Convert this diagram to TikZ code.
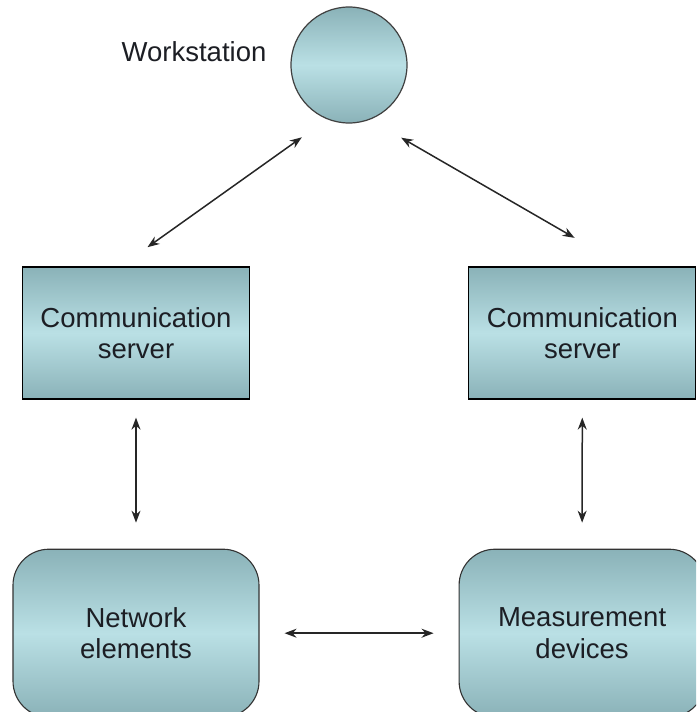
\documentclass[tikz,border=0pt]{standalone}
\usepackage{fontspec}
\setmainfont{Liberation Sans}
\usetikzlibrary{shapes,arrows.meta,positioning}
\definecolor{tealedge}{RGB}{138,178,184}
\definecolor{tealmid}{RGB}{186,224,229}
\definecolor{inkdark}{RGB}{28,30,36}

\begin{document}
\begin{tikzpicture}
[x=1pt,y=1pt,>={Stealth[length=12pt,width=9pt]},
 shaded/.style={top color=tealedge,bottom color=tealedge,middle color=tealmid,text=inkdark,align=center,font=\fontsize{27.5}{31.5}\selectfont},
 server node/.style={shaded,draw=black,line width=1.3pt,minimum width=227pt,minimum height=132pt},
 device node/.style={shaded,draw=black!80,line width=1.1pt,rounded corners=36pt,minimum width=246pt,minimum height=168pt},
 link/.style={<->,draw=black!85,line width=1.5pt}]

  \path[use as bounding box] (0,0) rectangle (696,-712);
  \clip (0,0) rectangle (696,-712);

  \node (workstation) [circle, shaded, draw=black!75, line width=1.2pt, minimum size=116pt] at (349,-65) {};
  \node (wslabel) [text=inkdark, font=\fontsize{27.5}{31.5}\selectfont] at (194,-52) {Workstation};
  \node (server1) [server node] at (136,-333) {Communication\\server};
  \node (server2) [server node, right=218pt of server1] {Communication\\server};
  \node (elements) [device node, below=149pt of server1] {Network\\elements};
  \node (devices) [device node, right=199pt of elements] {Measurement\\devices};

  \draw[link, shorten <=31pt, shorten >=33pt] (workstation.248) -- (server1.103);
  \draw[link, shorten <=36pt, shorten >=57pt] (workstation.291.5) -- (server2.58);
  \draw[link, shorten <=18pt, shorten >=26pt] (server1.south) -- (elements.north);
  \draw[link, shorten <=18pt, shorten >=26pt] (server2.south) -- (devices.north);
  \draw[link, shorten <=25pt, shorten >=25pt] (elements.east) -- (devices.west);

\end{tikzpicture}
\end{document}
